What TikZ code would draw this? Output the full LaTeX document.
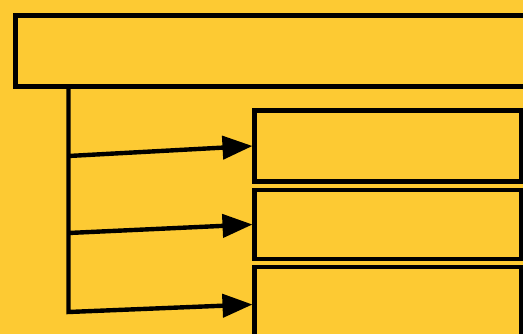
\documentclass[tikz,border=0pt]{standalone}
\usetikzlibrary{arrows.meta}
\definecolor{bgyellow}{RGB}{253,202,51}
\begin{document}
\begin{tikzpicture}[x=1pt,y=-1pt,
  box/.style={draw=black,line width=4.6pt,fill=bgyellow,inner sep=0pt,outer sep=0pt,anchor=north west},
  conn/.style={draw=black,line width=4.4pt,line join=miter},
  arr/.style={conn,-{Triangle[length=30pt,width=23pt]}}]
\useasboundingbox (0,0) rectangle (523,334);
\fill[bgyellow] (0,0) rectangle (523,334);
\clip (0,0) rectangle (523,334);
\node[box,minimum width=520pt,minimum height=71pt] (top) at (15.5,15.5) {};
\node[box,minimum width=266.5pt,minimum height=71pt] (b1) at (254.5,110.5) {};
\node[box,minimum width=266.5pt,minimum height=69pt] (b2) at (254.5,190) {};
\node[box,minimum width=266.5pt,minimum height=75pt] (b3) at (254.5,267) {};
\coordinate (c1) at (68.5,156);
\coordinate (c2) at (68.5,233);
\coordinate (c3) at (68.5,312);
\draw[arr] (top.south -| c3) -- (c3) -- ([xshift=-2pt]b3.west);
\draw[arr] (c1) -- ([xshift=-2pt]b1.west);
\draw[arr] (c2) -- ([xshift=-2pt]b2.west);
\end{tikzpicture}
\end{document}
